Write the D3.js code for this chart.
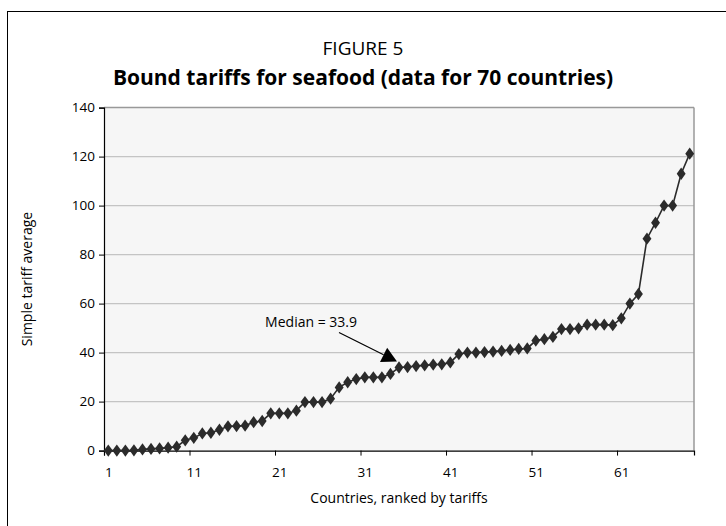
<!DOCTYPE html>
<html><head><meta charset="utf-8">
<script src="https://cdn.jsdelivr.net/npm/d3@7"></script>
<style>
html,body{margin:0;padding:0;background:#fff;}
svg{display:block;}
text{font-family:"Open Sans","Noto Sans",sans-serif;fill:#000;}
</style></head>
<body>
<script>
const figureLabel = "FIGURE 5";
const chartTitle = "Bound tariffs for seafood (data for 70 countries)";
const xAxisTitle = "Countries, ranked by tariffs";
const yAxisTitle = "Simple tariff average";
const medianLabel = "Median = 33.9";
const medianRank = 35;
const medianValue = 33.9;
const tariffs = [0,0,0,0.1,0.5,0.7,0.9,1.2,1.6,4.2,
  5.2,7.0,7.3,8.5,9.9,10.0,10.2,11.6,12.1,15.2,
  15.2,15.2,16.3,19.8,19.8,19.8,21.2,25.8,27.9,29.2,
  29.9,29.9,29.9,31.3,33.9,34.1,34.5,34.8,35.1,35.2,
  36.0,39.4,40.0,40.0,40.2,40.4,40.7,41.1,41.5,41.7,
  44.9,45.5,46.4,49.6,49.6,49.9,51.4,51.4,51.4,51.2,
  54.0,60.0,63.9,86.5,93.0,100,100,113,121.2];
const ranks = tariffs.map((_, i) => i + 1);
const xTickLabels = ["1","11","21","31","41","51","61"];
const yTicks = [0,20,40,60,80,100,120,140];

const W = 726, H = 526;
const L = 104, R = 694, T = 107.6, B = 450.6;
const FONT = '"Open Sans","Noto Sans",sans-serif';

const svg = d3.select("body").append("svg").attr("width", W).attr("height", H);

// outer frame
svg.append("rect").attr("x", 7.5).attr("y", 11.5).attr("width", 740).attr("height", 540)
  .attr("fill", "none").attr("stroke", "#000").attr("stroke-width", 1);

const x = d3.scaleLinear().domain([0.5, tariffs.length + 0.5]).range([L, R]);
const y = d3.scaleLinear().domain([0, 140]).range([B, T]);

// plot background
svg.append("rect").attr("x", L).attr("y", T).attr("width", R - L).attr("height", B - T)
  .attr("fill", "#f6f6f6");

// gridlines
svg.append("g").selectAll("line").data(yTicks.filter(d => d > 0)).join("line")
  .attr("x1", L).attr("x2", R).attr("y1", d => y(d)).attr("y2", d => y(d))
  .attr("stroke", d => d === 140 ? "#999" : "#c4c4c4").attr("stroke-width", d => d === 140 ? 1.5 : 1.2);
svg.append("line").attr("x1", R).attr("x2", R).attr("y1", T).attr("y2", B)
  .attr("stroke", "#999").attr("stroke-width", 1.5);

// y axis
const yAxis = d3.axisLeft(y).tickValues(yTicks).tickSize(5).tickPadding(4).tickFormat(d3.format("d"));
const gy = svg.append("g").attr("transform", `translate(${L},0)`).call(yAxis);
gy.select(".domain").attr("stroke", "#000").attr("stroke-width", 1.2);
gy.selectAll(".tick line").attr("stroke", "#000");
gy.selectAll("text").attr("font-size", 13.5).attr("font-family", FONT);

// x axis: tick marks at category boundaries, labels at categories
const xLabelVals = xTickLabels.map(Number);
const gxTicks = svg.append("g").attr("transform", `translate(0,${B})`)
  .call(d3.axisBottom(x).tickValues(xLabelVals.map(v => v - 0.5)).tickSize(5).tickFormat(""));
gxTicks.select(".domain").attr("stroke", "#000").attr("stroke-width", 1.2);
gxTicks.selectAll(".tick line").attr("stroke", "#000");
const gxLabels = svg.append("g").attr("transform", `translate(0,${B})`)
  .call(d3.axisBottom(x).tickValues(xLabelVals).tickSize(0).tickPadding(17).tickFormat((d, i) => xTickLabels[i]));
gxLabels.select(".domain").remove();
gxLabels.selectAll("text").attr("font-size", 13.5).attr("font-family", FONT);

// line
const line = d3.line().x((d, i) => x(ranks[i])).y(d => y(d));
svg.append("path").datum(tariffs).attr("d", line)
  .attr("fill", "none").attr("stroke", "#2b2b2b").attr("stroke-width", 1.6);

// diamond markers
const diamond = d3.symbol().type(d3.symbolDiamond).size(44);
svg.append("g").selectAll("path").data(tariffs).join("path")
  .attr("d", diamond)
  .attr("transform", (d, i) => `translate(${x(ranks[i])},${y(d)}) scale(1.25,1)`)
  .attr("fill", "#2b2b2b");

// median annotation
const tipX = x(medianRank) - 2, tipY = y(medianValue) - 6;
const startX = tipX - 58, startY = tipY - 29;
const ang = Math.atan2(tipY - startY, tipX - startX);
const headLen = 15, headW = 8;
const bx = tipX - headLen * Math.cos(ang), by = tipY - headLen * Math.sin(ang);
svg.append("line").attr("x1", startX).attr("y1", startY).attr("x2", bx).attr("y2", by)
  .attr("stroke", "#000").attr("stroke-width", 1.2);
svg.append("path").attr("d", d3.line()([
  [tipX, tipY],
  [bx + headW * Math.sin(ang), by - headW * Math.cos(ang)],
  [bx - headW * Math.sin(ang), by + headW * Math.cos(ang)]
])).attr("fill", "#000");
svg.append("text").attr("x", startX + 18).attr("y", startY - 6).attr("text-anchor", "end")
  .attr("font-size", 14).text(medianLabel);

// titles
svg.append("text").attr("x", 363).attr("y", 55).attr("text-anchor", "middle")
  .attr("font-size", 19).text(figureLabel);
svg.append("text").attr("x", 363).attr("y", 85).attr("text-anchor", "middle")
  .attr("font-size", 21).attr("font-weight", "bold").text(chartTitle);

svg.append("text").attr("x", (L + R) / 2).attr("y", 503).attr("text-anchor", "middle")
  .attr("font-size", 14).text(xAxisTitle);
svg.append("text").attr("transform", `translate(32,${(T + B) / 2}) rotate(-90)`)
  .attr("text-anchor", "middle").attr("font-size", 14).text(yAxisTitle);
</script>
</body></html>
